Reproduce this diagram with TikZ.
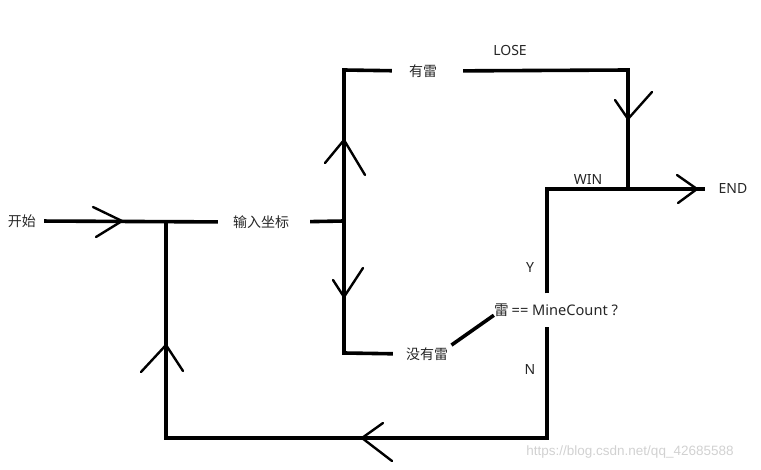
\documentclass[tikz,border=0pt]{standalone}
\usepackage{fontspec}
\setmainfont{Noto Sans}
\newfontfamily\cjk{Noto Sans CJK SC}
\newfontfamily\wmfont{Liberation Sans}
\begin{document}
\begin{tikzpicture}[x=1pt,y=-1pt,
  wire/.style={line width=3.6pt},
  arm/.style={line width=2.4pt, line cap=round, line join=round},
  lbl/.style={font=\fontsize{14}{16}\selectfont, inner sep=0pt, text=black!85},
  cjklbl/.style={lbl, font=\fontsize{14}{16}\selectfont\cjk}]
\useasboundingbox (0,0) rectangle (761,470);
% text nodes
\node[cjklbl] (start) at (22,221) {开始};
\node[cjklbl] (input) at (261,222) {输入坐标};
\node[cjklbl] (mine) at (423,71) {有雷};
\node[cjklbl] (nomine) at (427,354) {没有雷};
\node[lbl, font=\fontsize{14.6}{16}\selectfont] (check) at (556,310) {{\cjk 雷}\hspace{3pt}== MineCount ?};
\node[lbl] (endnode) at (733,189) {END};
\node[lbl] (lose) at (510,50) {LOSE};
\node[lbl] (win) at (588,180) {WIN};
\node[lbl] (ylbl) at (530,268) {Y};
\node[lbl] (nlbl) at (530,370) {N};
\node[font=\fontsize{13.5}{15}\selectfont\wmfont, text=black!18, inner sep=0pt] (wm) at (630,452) {https://blog.csdn.net/qq\_42685588};
% corners
\coordinate (j0) at (166,221);
\coordinate (c1) at (166,438);
\coordinate (c2) at (547,438);
\coordinate (j1) at (344,221);
\coordinate (k1) at (344,70);
\coordinate (k2) at (344,353);
\coordinate (k3) at (628,70);
\coordinate (k4) at (628,189);
\coordinate (w1) at (547,189);
% wires
\draw[wire, shorten <=8pt, shorten >=15pt] (start.east) -- (input.west);
\draw[wire] (j0) -- (c1) -- (c2) -- ([yshift=-10pt]c2 |- check.south);
\draw[wire, shorten <=21pt] (input.east) -- (j1);
\draw[wire, shorten <=13pt, shorten >=17pt] (nomine.west) -- (k2) -- (k1) -- (mine.west);
\draw[wire, shorten <=26pt] (mine.east) -- (k3) -- (k4);
\draw[wire] ([yshift=10pt]w1 |- check.north) -- (w1) -- ([xshift=-13pt]endnode.west);
\draw[wire, shorten <=4pt] (nomine.north east) -- (check.base west);
% hand-drawn arrowheads
\draw[arm] (93,207) -- (122,221) -- (96,237);
\draw[arm] (141,372) -- (166,345) -- (183,371);
\draw[arm] (325,163) -- (344,140) -- (365,175);
\draw[arm] (333,280) -- (344,297) -- (363,268);
\draw[arm] (615,100) -- (628,119) -- (652,92);
\draw[arm] (677,175) -- (697,189) -- (678,203);
\draw[arm] (383,423) -- (362,438) -- (392,461);
\end{tikzpicture}
\end{document}
